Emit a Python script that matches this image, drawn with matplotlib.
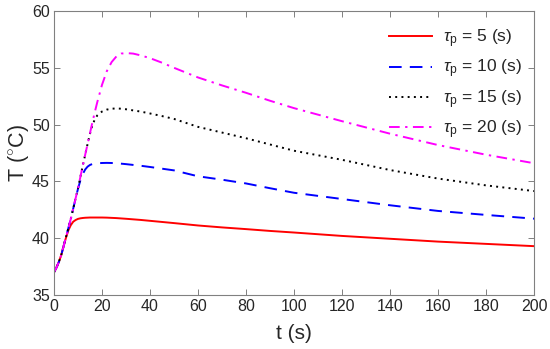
import matplotlib
matplotlib.use("Agg")
import matplotlib.pyplot as plt

plt.rcParams['font.family'] = ['Liberation Sans', 'DejaVu Sans']
plt.rcParams['mathtext.fontset'] = 'custom'
plt.rcParams['mathtext.rm'] = 'Liberation Sans'
plt.rcParams['mathtext.it'] = 'Liberation Sans:italic'

t = [0, 1, 2, 3, 4, 5, 6, 7, 8, 9, 10, 11, 12, 13, 14, 15, 16, 17, 18, 20, 22, 24, 26,
     28, 30, 33, 36, 40, 45, 50, 60, 70, 80, 90, 100, 120, 140, 160, 180, 200]

T_5 = [37.0, 37.4, 37.9, 38.5, 39.3, 40.05, 40.7, 41.15, 41.45, 41.6, 41.7, 41.75, 41.78,
       41.8, 41.81, 41.82, 41.82, 41.82, 41.82, 41.82, 41.81, 41.79, 41.77, 41.74, 41.71,
       41.66, 41.61, 41.53, 41.43, 41.33, 41.12, 40.95, 40.8, 40.64, 40.5, 40.2, 39.95,
       39.7, 39.5, 39.3]
T_10 = [37.0, 37.4, 37.9, 38.5, 39.3, 40.1, 40.9, 41.7, 42.6, 43.5, 44.35, 45.1, 45.65,
        46.05, 46.3, 46.45, 46.53, 46.58, 46.6, 46.62, 46.63, 46.62, 46.6, 46.56, 46.52,
        46.45, 46.38, 46.27, 46.12, 45.97, 45.45, 45.15, 44.82, 44.4, 44.0, 43.45, 42.9,
        42.4, 42.05, 41.72]
T_15 = [37.0, 37.4, 37.9, 38.5, 39.3, 40.1, 40.9, 41.7, 42.6, 43.5, 44.4, 45.4, 46.4,
        47.35, 48.3, 49.2, 49.95, 50.45, 50.8, 51.15, 51.32, 51.4, 51.42, 51.4, 51.35,
        51.25, 51.15, 50.98, 50.75, 50.5, 49.8, 49.3, 48.8, 48.25, 47.7, 46.9, 46.0,
        45.25, 44.65, 44.15]
T_20 = [37.0, 37.4, 37.9, 38.5, 39.3, 40.1, 40.9, 41.7, 42.6, 43.5, 44.4, 45.4, 46.4,
        47.35, 48.3, 49.25, 50.2, 51.1, 51.95, 53.5, 54.7, 55.5, 56.0, 56.25, 56.3,
        56.25, 56.1, 55.85, 55.45, 55.0, 54.15, 53.45, 52.8, 52.1, 51.45, 50.3, 49.2,
        48.2, 47.35, 46.6]

labels = [r'$\tau_{\mathrm{p}}$ = 5 (s)', r'$\tau_{\mathrm{p}}$ = 10 (s)',
          r'$\tau_{\mathrm{p}}$ = 15 (s)', r'$\tau_{\mathrm{p}}$ = 20 (s)']
xticks = [0, 20, 40, 60, 80, 100, 120, 140, 160, 180, 200]
yticks = [35, 40, 45, 50, 55, 60]

fig = plt.figure(figsize=(5.5, 3.49), dpi=100)
ax = fig.add_axes([54/550, 1-295/349, 480/550, 284/349])

ax.plot(t, T_5, color='#ff0000', lw=1.4, linestyle='-', label=labels[0])
ax.plot(t, T_10, color='#0000ff', lw=1.4, linestyle=(0, (6.5, 4.2)), label=labels[1])
ax.plot(t, T_15, color='black', lw=1.4, linestyle=(0, (1, 2.2)), label=labels[2])
ax.plot(t, T_20, color='#ff00ff', lw=1.4, linestyle=(0, (5.5, 2.8, 1.2, 2.8)), label=labels[3])

ax.set_xlim(0, 200)
ax.set_ylim(35, 60)
ax.set_xticks(xticks)
ax.set_yticks(yticks)
ax.tick_params(direction='in', top=True, right=True, length=4, width=0.7,
               colors='#808080', labelcolor='#262626', labelsize=11.5, pad=3)
for s in ax.spines.values():
    s.set_color('#808080')
    s.set_linewidth(0.8)

ax.set_xlabel('t (s)', fontsize=15, color='#262626', labelpad=7)
ax.set_ylabel(r'T ($^{\circ}$C)', fontsize=15.5, color='#262626', labelpad=1)

leg = ax.legend(loc='upper right', frameon=False, fontsize=12.5, handlelength=2.5,
                labelspacing=0.45, handletextpad=0.65, borderaxespad=0.0,
                bbox_to_anchor=(0.99, 0.967))
for txt in leg.get_texts():
    txt.set_color('#262626')

fig.savefig('out.png', dpi=100)
